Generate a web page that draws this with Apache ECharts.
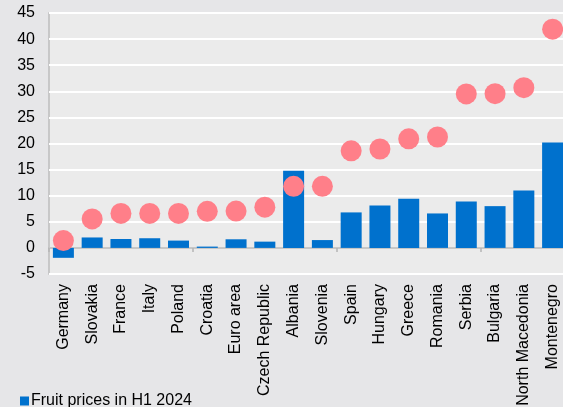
<!DOCTYPE html>
<html>
<head>
<meta charset="utf-8">
<script src="https://cdn.jsdelivr.net/npm/echarts@6/dist/echarts.min.js"></script>
<style>
  html, body { margin: 0; padding: 0; background: #e6e6e8; }
  #chart { width: 563px; height: 407px; }
</style>
</head>
<body>
<div id="chart"></div>
<script>
  const countries = [
    "Germany", "Slovakia", "France", "Italy", "Poland", "Croatia",
    "Euro area", "Czech Republic", "Albania", "Slovenia", "Spain",
    "Hungary", "Greece", "Romania", "Serbia", "Bulgaria",
    "North Macedonia", "Montenegro"
  ];
  // fruit prices in H1 2024 (bars)
  const fruitH1 = [
    -1.9, 2.0, 1.7, 1.85, 1.4, 0.25,
    1.65, 1.2, 14.8, 1.5, 6.8,
    8.1, 9.4, 6.6, 8.9, 8.0,
    11.0, 20.2
  ];
  // second series (dots, not in legend)
  const dots = [
    1.4, 5.55, 6.6, 6.6, 6.6, 7.0,
    7.05, 7.8, 11.8, 11.8, 18.6,
    18.95, 20.9, 21.25, 29.5, 29.55,
    30.7, 41.9
  ];
  const yMin = -5, yMax = 45, yStep = 5;

  const font = "'Liberation Sans', Arial, sans-serif";
  const chart = echarts.init(document.getElementById("chart"), null, { renderer: "canvas" });

  chart.setOption({
    backgroundColor: "#e6e6e8",
    animation: false,
    grid: {
      left: 49, top: 13, right: -4, bottom: 133,
      outerBoundsMode: "none",
      show: true,
      backgroundColor: "#ebebeb",
      borderColor: "#bdbdbd",
      borderWidth: 1.5
    },
    legend: {
      left: 15, top: 388,
      itemWidth: 9, itemHeight: 9, itemGap: 4,
      icon: "rect",
      data: ["Fruit prices in H1 2024"],
      textStyle: { fontFamily: font, fontSize: 16, color: "#000", padding: [0, 0, 0, -3] }
    },
    xAxis: [
      {
        type: "category",
        data: countries,
        axisLine: { onZero: true, lineStyle: { color: "#b5b5b5", width: 1.5 } },
        axisTick: { show: true, length: 4, lineStyle: { color: "#b5b5b5", width: 1.5 } },
        axisLabel: { show: false },
        splitLine: { show: false }
      },
      {
        type: "category",
        data: countries,
        position: "bottom",
        axisLine: { show: false, onZero: false },
        axisTick: { show: false },
        axisLabel: {
          rotate: 90, margin: 10, interval: 0,
          fontFamily: font, fontSize: 16, color: "#000"
        }
      }
    ],
    yAxis: {
      type: "value",
      min: yMin, max: yMax, interval: yStep,
      axisLine: { show: false },
      axisTick: { show: false },
      axisLabel: { margin: 14, fontFamily: font, fontSize: 16, color: "#000" },
      splitLine: { lineStyle: { color: "#ffffff", width: 2 } }
    },
    series: [
      {
        name: "Fruit prices in H1 2024",
        type: "bar",
        data: fruitH1,
        barWidth: 21,
        itemStyle: { color: "#0071cd" }
      },
      {
        name: "dots",
        type: "scatter",
        data: dots,
        symbolSize: 21,
        itemStyle: { color: "#ff7f89", opacity: 1 }
      }
    ]
  });
</script>
</body>
</html>
